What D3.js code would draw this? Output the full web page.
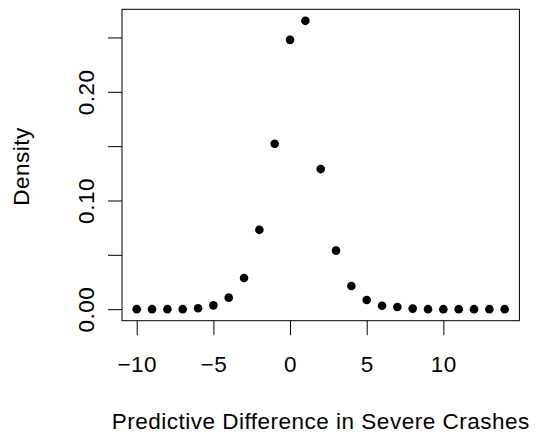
<!DOCTYPE html>
<html>
<head>
<meta charset="utf-8">
<script src="https://cdn.jsdelivr.net/npm/d3@7"></script>
<style>
  body { margin: 0; background: #fff; }
  text { font-family: "Liberation Sans", Arial, sans-serif; }
</style>
</head>
<body>
<script>
// predictive difference values and their density
const diffs = [-10, -9, -8, -7, -6, -5, -4, -3, -2, -1, 0, 1, 2, 3, 4, 5, 6, 7, 8, 9, 10, 11, 12, 13, 14];
const density = [0, 0, 0, 0, 0.0008, 0.0035, 0.0106, 0.0287, 0.0730, 0.1522, 0.2478, 0.2653, 0.1289,
                 0.0539, 0.0213, 0.0084, 0.0032, 0.0020, 0.0005, 0, 0, 0, 0, 0, 0];
const xTicks = [-10, -5, 0, 5, 10];
const yTicks = [0, 0.05, 0.10, 0.15, 0.20, 0.25];
const yLabelled = [0, 0.10, 0.20];
const xTitle = "Predictive Difference in Severe Crashes";
const yTitle = "Density";

const W = 537, H = 438;
const plot = {left: 122, right: 519.4, top: 9.3, bottom: 320.7};

const svg = d3.select("body").append("svg")
    .attr("width", W)
    .attr("height", H);

// R style 4% padding on both axes
function padded(lo, hi) {
    const d = (hi - lo) * 0.04;
    return [lo - d, hi + d];
}

const x = d3.scaleLinear()
    .domain(padded(d3.min(diffs), d3.max(diffs)))
    .range([plot.left, plot.right]);
const y = d3.scaleLinear()
    .domain(padded(0, d3.max(density)))
    .range([plot.bottom, plot.top]);

const fontSize = "22.5px";

// x axis
const gx = svg.append("g")
    .attr("transform", `translate(0,${plot.bottom})`)
    .call(d3.axisBottom(x).tickValues(xTicks).tickSize(14.5).tickPadding(21));
gx.select(".domain").remove();
gx.selectAll(".tick line").attr("stroke", "#000");
gx.selectAll(".tick text")
    .style("font-size", fontSize)
    .style("letter-spacing", "0.5px")
    .attr("fill", "#000");

// y axis, labels rotated like base R
const gy = svg.append("g")
    .attr("transform", `translate(${plot.left},0)`)
    .call(d3.axisLeft(y).tickValues(yTicks).tickSize(14)
        .tickFormat(d => yLabelled.some(v => Math.abs(v - d) < 1e-9) ? d3.format(".2f")(d) : ""));
gy.select(".domain").remove();
gy.selectAll(".tick line").attr("stroke", "#000");
gy.selectAll(".tick text")
    .attr("transform", "rotate(-90)")
    .attr("x", 0)
    .attr("y", -27.7)
    .attr("dy", null)
    .attr("text-anchor", "middle")
    .style("font-size", fontSize)
    .style("letter-spacing", "0.5px")
    .attr("fill", "#000");

// plot box
svg.append("rect")
    .attr("x", plot.left)
    .attr("y", plot.top)
    .attr("width", plot.right - plot.left)
    .attr("height", plot.bottom - plot.top)
    .attr("fill", "none")
    .attr("stroke", "#000")
    .attr("stroke-width", 1);

// points
svg.append("g")
    .selectAll("circle")
    .data(diffs.map((d, i) => ({x: d, y: density[i]})))
    .join("circle")
    .attr("cx", d => x(d.x))
    .attr("cy", d => y(d.y))
    .attr("r", 4.3)
    .attr("fill", "#000");

// titles
svg.append("text")
    .attr("x", (plot.left + plot.right) / 2)
    .attr("y", 429.3)
    .attr("text-anchor", "middle")
    .style("font-size", fontSize)
    .style("letter-spacing", "0.5px")
    .text(xTitle);

svg.append("text")
    .attr("transform", `translate(29.3,${(plot.top + plot.bottom) / 2 + 1.5}) rotate(-90)`)
    .attr("text-anchor", "middle")
    .style("font-size", fontSize)
    .style("letter-spacing", "0.5px")
    .text(yTitle);
</script>
</body>
</html>
